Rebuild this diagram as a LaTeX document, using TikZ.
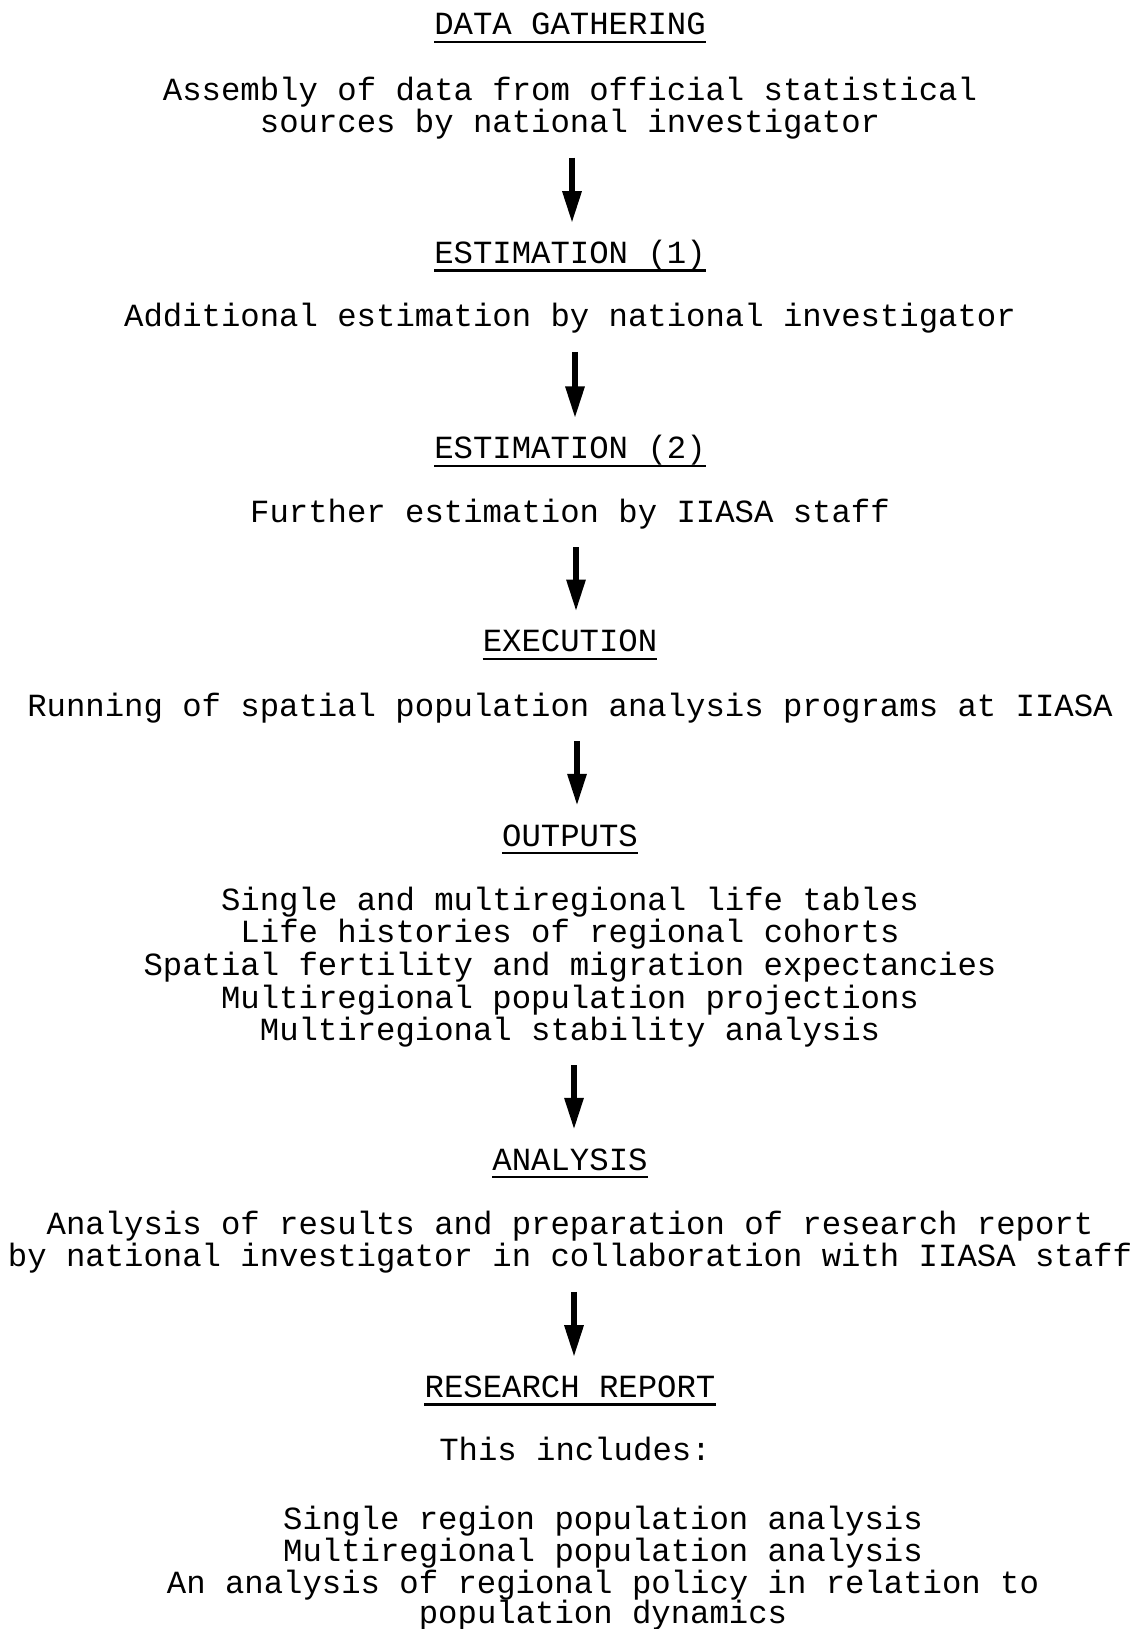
\documentclass[tikz,border=0pt]{standalone}
\usepackage{fontspec}
\setmainfont{Liberation Mono}
\usetikzlibrary{arrows.meta}
\begin{document}
\begin{tikzpicture}[x=1pt,y=-1pt,
  every node/.style={inner sep=0pt, anchor=base, font=\fontsize{32.3}{32.4}\selectfont, text height=22pt, text depth=8pt},
  uline/.style={line width=2.4pt},
  flow/.style={line width=6pt, -{Triangle[length=32pt,width=18pt]}, shorten <=17pt, shorten >=18pt}]
\useasboundingbox (0,0) rectangle (1133,1629);
\def\cx{570}
\def\rx{603}
\begin{scope}[shift={(0,2)}]
\node (dg)   at (\cx,33)     {DATA GATHERING};
\node (asm1) at (\cx,98.3)   {Assembly of data from official statistical};
\node (asm2) at (\cx,130.5)  {sources by national investigator};
\node (est1) at (\cx,261.4)  {ESTIMATION (1)};
\node (add)  at (\cx,324.7)  {Additional estimation by national investigator};
\node (est2) at (\cx,456.6)  {ESTIMATION (2)};
\node (fur)  at (\cx,520)    {Further estimation by IIASA staff};
\node (exe)  at (\cx,649.7)  {EXECUTION};
\node (run)  at (\cx,714)    {Running of spatial population analysis programs at IIASA};
\node (out)  at (\cx,844)    {OUTPUTS};
\node (o1)   at (\cx,908.3)  {Single and multiregional life tables};
\node (o2)   at (\cx,940.5)  {Life histories of regional cohorts};
\node (o3)   at (\cx,973.8)  {Spatial fertility and migration expectancies};
\node (o4)   at (\cx,1006)   {Multiregional population projections};
\node (o5)   at (\cx,1038)   {Multiregional stability analysis};
\node (ana)  at (\cx,1168)   {ANALYSIS};
\node (an1)  at (\cx,1232.3) {Analysis of results and preparation of research report};
\node (an2)  at (\cx,1264.6) {by national investigator in collaboration with IIASA staff};
\node (rr)   at (\cx,1395.4) {RESEARCH REPORT};
\node (inc)  at (\cx+5,1458.7) {This includes:};
\node (r1)   at (\rx,1527.3) {Single region population analysis};
\node (r2)   at (\rx,1559.5) {Multiregional population analysis};
\node (r3)   at (\rx,1591.7) {An analysis of regional policy in relation to};
\node (r4)   at (\rx,1621.8) {population dynamics};
\end{scope}
\foreach \t in {dg,est1,est2,exe,out,ana,rr}
  \draw[uline] ([yshift=1pt]\t.south west) -- ([yshift=1pt]\t.south east);
\draw[flow] ([xshift=2pt]asm2.south) -- ([xshift=2pt]est1.north);
\draw[flow] ([xshift=5pt]add.south) -- ([xshift=5pt]est2.north);
\draw[flow] ([xshift=6pt]fur.south) -- ([xshift=6pt]exe.north);
\draw[flow] ([xshift=7pt]run.south) -- ([xshift=7pt]out.north);
\draw[flow] ([xshift=4pt]o5.south) -- ([xshift=4pt]ana.north);
\draw[flow] ([xshift=4pt]an2.south) -- ([xshift=4pt]rr.north);
\end{tikzpicture}
\end{document}
